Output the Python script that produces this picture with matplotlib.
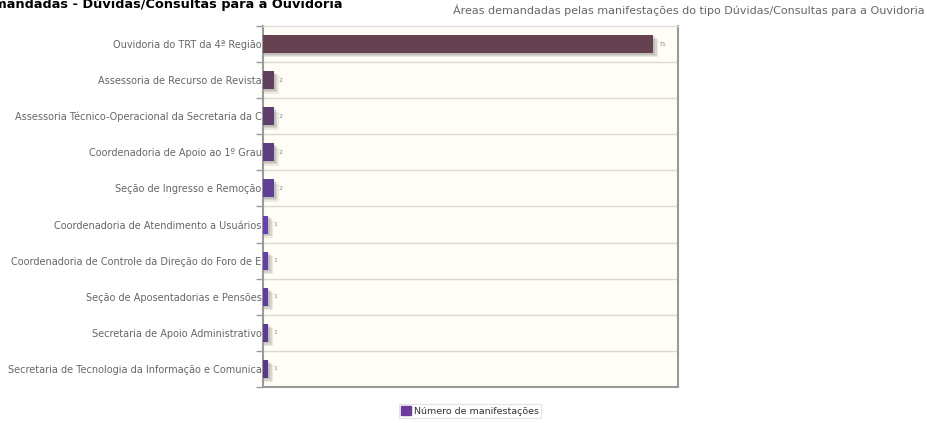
import matplotlib
matplotlib.use("Agg")
import matplotlib.pyplot as plt
from matplotlib.patches import Rectangle

categories = [
    "Ouvidoria do TRT da 4ª Região",
    "Assessoria de Recurso de Revista",
    "Assessoria Técnico-Operacional da Secretaria da C",
    "Coordenadoria de Apoio ao 1º Grau",
    "Seção de Ingresso e Remoção",
    "Coordenadoria de Atendimento a Usuários",
    "Coordenadoria de Controle da Direção do Foro de E",
    "Seção de Aposentadorias e Pensões",
    "Secretaria de Apoio Administrativo",
    "Secretaria de Tecnologia da Informação e Comunica",
]
values = [71, 2, 2, 2, 2, 1, 1, 1, 1, 1]
bar_colors = ["#66414f", "#613f5f", "#5f3e6e", "#5e3e80", "#604094",
              "#6540b0", "#633fa8", "#5f3d9c", "#5c3c92", "#5a3a88"]
series_name = "Número de manifestações"
title = "Áreas Demandadas - Dúvidas/Consultas para a Ouvidoria"
subtitle = "Áreas demandadas pelas manifestações do tipo Dúvidas/Consultas para a Ouvidoria"

W, H = 927, 423
fig = plt.figure(figsize=(W / 100, H / 100), dpi=100)
fig.patch.set_facecolor("white")

ax = fig.add_axes([263 / W, 1 - 387 / H, 415 / W, 361 / H])
ax.set_facecolor("#fffdf6")

n = len(categories)
ypos = list(range(n))
xmax = 75.5
ax.set_xlim(0, xmax)
ax.set_ylim(n - 0.5, -0.5)

# shadows
for dx, dy, a in [(0.9, 0.12, 0.10), (0.6, 0.08, 0.12), (0.3, 0.04, 0.15)]:
    ax.barh([y + dy for y in ypos], [v + dx for v in values], height=0.5,
            color="#444444", alpha=a, zorder=2, linewidth=0)
ax.barh(ypos, values, height=0.5, color=bar_colors, zorder=3, linewidth=0)

for y, v in zip(ypos, values):
    ax.text(v + 0.9, y, str(v), va="center", ha="left", fontsize=4.5,
            color="#888888", zorder=4)

# grid lines at row boundaries
bounds = [i - 0.5 for i in range(1, n)]
for b in bounds:
    ax.axhline(b, color="#d9d9d9", lw=1, zorder=1)

ax.set_yticks(ypos)
ax.set_yticklabels(categories, fontsize=7.0, color="#666666")
ax.tick_params(axis="y", which="major", length=0, pad=1)
ax.set_yticks([i - 0.5 for i in range(n + 1)], minor=True)
ax.tick_params(axis="y", which="minor", length=5, color="#999999", width=1)
ax.set_xticks([])

for side in ["left", "bottom", "right"]:
    ax.spines[side].set_color("#999999")
    ax.spines[side].set_linewidth(1.5)
ax.spines["top"].set_color("#dddddd")
ax.spines["top"].set_linewidth(1)

fig.text(343 / W, 1 - 8 / H, title, ha="right", va="baseline",
         fontsize=9.3, fontweight="bold", color="black")
fig.text(925 / W, 1 - 10 / H, subtitle, ha="right", va="center",
         fontsize=8.0, color="#666666")

leg = fig.legend(handles=[Rectangle((0, 0), 1, 1, color="#6a3d9a")],
                 labels=[series_name], loc="center",
                 bbox_to_anchor=(470 / W, 1 - 411 / H), fontsize=6.8,
                 frameon=True, handlelength=1.0, handleheight=1.0,
                 handletextpad=0.3, borderpad=0.2, fancybox=False)
leg.get_frame().set_edgecolor("#dddddd")
leg.get_frame().set_linewidth(0.8)
for t in leg.get_texts():
    t.set_color("#333333")

fig.savefig("out.png", dpi=100)
